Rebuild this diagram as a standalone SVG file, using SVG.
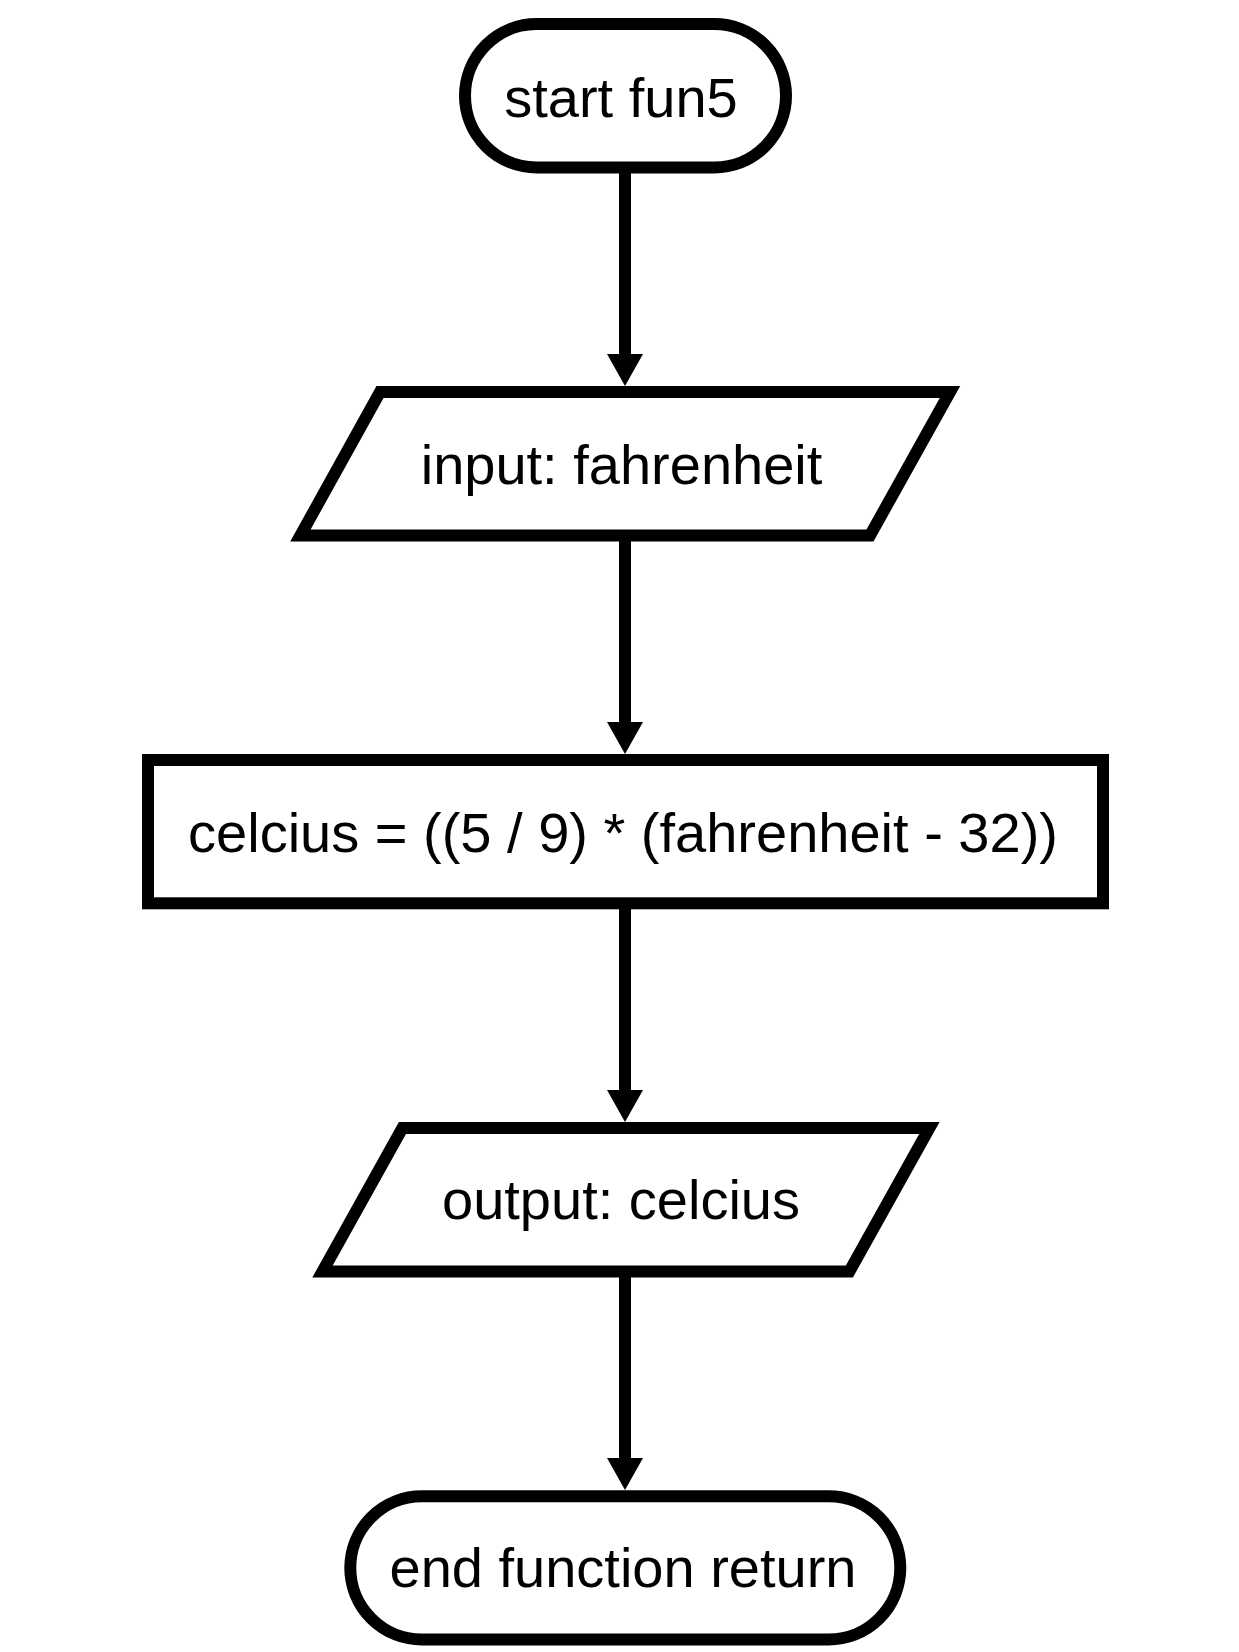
<svg xmlns="http://www.w3.org/2000/svg" width="1239" height="1652" viewBox="0 0 1239 1652">
  <style>
    .shape { fill: #ffffff; stroke: #000000; stroke-width: 12; stroke-linejoin: miter; }
    .label { font-family: "Liberation Sans", Arial, sans-serif; font-size: 56px; fill: #000000; text-anchor: middle; }
    .edge { stroke: #000000; stroke-width: 12; fill: none; marker-end: url(#arrow); }
  </style>
  <defs>
    <marker id="arrow" markerUnits="userSpaceOnUse" markerWidth="32" markerHeight="36" refX="1" refY="18" orient="auto" viewBox="0 0 32 36">
      <path d="M0,0 L32,18 L0,36 Z" fill="#000000"/>
    </marker>
  </defs>
  <rect width="1239" height="1652" fill="#ffffff"/>
  <g id="connectors">
    <line class="edge" x1="625" y1="167.5" x2="625" y2="355"/>
    <line class="edge" x1="625" y1="535.5" x2="625" y2="723"/>
    <line class="edge" x1="625" y1="903.3" x2="625" y2="1091"/>
    <line class="edge" x1="625" y1="1271.5" x2="625" y2="1459"/>
  </g>
  <g id="node-start">
    <rect class="shape" x="465" y="24" width="321" height="143.5" rx="71.75" ry="71.75"/>
    <text class="label" x="621" y="116.5">start fun5</text>
  </g>
  <g id="node-input">
    <polygon class="shape" points="380,392 950,392 870,535.5 300.4,535.5"/>
    <text class="label" x="621.5" y="484">input: fahrenheit</text>
  </g>
  <g id="node-process">
    <rect class="shape" x="148" y="760" width="955" height="143.3"/>
    <text class="label" x="623" y="851.7">celcius = ((5 / 9) * (fahrenheit - 32))</text>
  </g>
  <g id="node-output">
    <polygon class="shape" points="402.4,1128 929.4,1128 849.4,1271.5 322.5,1271.5"/>
    <text class="label" x="621" y="1219.3">output: celcius</text>
  </g>
  <g id="node-end">
    <rect class="shape" x="350.3" y="1496.2" width="550" height="143.3" rx="71.65" ry="71.65"/>
    <text class="label" x="623" y="1587.3">end function return</text>
  </g>
</svg>
